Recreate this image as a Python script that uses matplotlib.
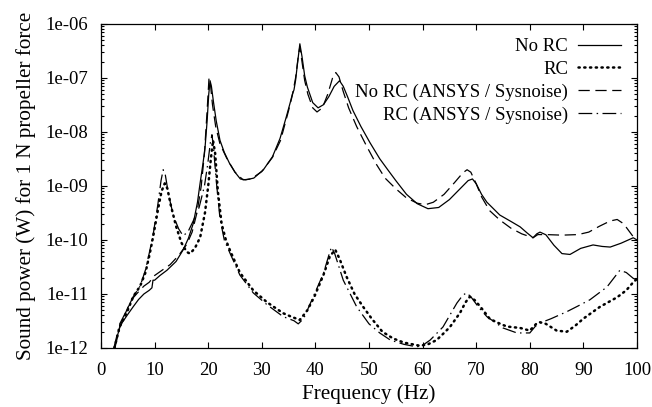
import matplotlib
matplotlib.use("Agg")
import matplotlib.pyplot as plt
from matplotlib.ticker import LogLocator, FixedLocator, FuncFormatter, NullFormatter

plt.rcParams['font.family'] = ['Liberation Serif', 'DejaVu Serif']
plt.rcParams['font.size'] = 13.5

# No RC (solid)
f_norc = [2.5, 3.0, 3.5, 4.0, 5.0, 6.0, 7.0, 8.0, 9.0, 9.5, 9.7, 10.0, 11.0, 12.3, 14.0,
          15.3, 16.3, 17.2, 18.0, 18.5, 19.0, 19.4, 19.8, 20.1, 20.35, 20.6, 21.0, 21.5,
          22.2, 23.0, 24.0, 25.0, 26.0, 27.0, 28.5, 30.3, 32.0, 33.4, 34.5, 35.3, 35.7,
          36.0, 36.3, 36.7, 37.1, 37.5, 38.0, 38.5, 39.5, 40.5, 41.5, 42.5, 43.5, 44.5,
          45.2, 46.0, 47.0, 48.5, 50.2, 52.0, 53.5, 55.0, 57.0, 59.0, 61.0, 63.0, 65.0,
          67.0, 68.5, 69.3, 70.0, 71.0, 72.0, 73.1, 74.4, 76.5, 78.2, 79.5, 80.6, 81.3,
          81.9, 83.0, 84.5, 86.0, 87.5, 89.5, 91.8, 93.5, 95.0, 97.0, 99.3, 100.0]
p_norc = [1.0e-12, 1.6e-12, 2.4e-12, 3.0e-12, 4.2e-12, 5.8e-12, 7.9e-12, 1.0e-11, 1.17e-11,
          1.3e-11, 1.8e-11, 1.8e-11, 2.2e-11, 2.75e-11, 4.0e-11, 6.5e-11, 1.07e-10, 2.0e-10,
          5.0e-10, 1.15e-9, 2.5e-9, 5.0e-9, 1.6e-8, 5.0e-8, 8.9e-8, 7.0e-8, 3.5e-8, 1.6e-8,
          7.0e-9, 4.2e-9, 2.6e-9, 1.8e-9, 1.35e-9, 1.3e-9, 1.4e-9, 2.0e-9, 3.5e-9, 7.6e-9,
          1.8e-8, 3.5e-8, 5.0e-8, 6.0e-8, 9.0e-8, 2.0e-7, 4.3e-7, 2.5e-7, 1.1e-7, 6.8e-8,
          3.5e-8, 2.8e-8, 3.2e-8, 4.5e-8, 7.0e-8, 8.9e-8, 7.0e-8, 4.5e-8, 2.5e-8, 1.26e-8,
          6.3e-9, 3.2e-9, 2.0e-9, 1.26e-9, 7.0e-10, 4.7e-10, 3.8e-10, 4.0e-10, 5.6e-10,
          8.9e-10, 1.26e-9, 1.35e-9, 1.1e-9, 7.0e-10, 5.0e-10, 3.9e-10, 2.9e-10, 2.2e-10,
          1.75e-10, 1.35e-10, 1.1e-10, 1.3e-10, 1.4e-10, 1.25e-10, 8.0e-11, 5.6e-11, 5.4e-11,
          7.0e-11, 8.1e-11, 7.6e-11, 7.4e-11, 8.7e-11, 1.1e-10, 1.0e-10]

# RC (dotted)
f_rc = [2.5, 3.5, 4.8, 6.0, 7.3, 8.3, 9.1, 9.8, 10.7, 11.3, 11.9, 12.4, 13.0, 14.0, 15.0,
        16.0, 16.6, 17.5, 18.5, 19.4, 20.0, 20.5, 20.9, 21.3, 21.8, 22.5, 23.3, 24.1, 25.9,
        28.4, 31.0, 34.0, 35.5, 37.1, 38.5, 39.8, 41.5, 42.7, 43.7, 44.5, 45.8, 47.3, 48.9,
        50.5, 52.5, 54.5, 56.5, 59.5, 61.0, 62.6, 64.0, 65.1, 67.0, 68.0, 68.8, 69.8, 71.3,
        72.5, 73.8, 75.7, 78.2, 80.0, 81.2, 81.9, 83.0, 85.0, 86.9, 88.5, 90.0, 93.1, 96.3,
        98.0, 99.3, 100.0]
p_rc = [1.0e-12, 2.5e-12, 4.5e-12, 8.9e-12, 1.4e-11, 2.5e-11, 5.6e-11, 1.26e-10, 4.0e-10,
        8.0e-10, 1.12e-9, 8.9e-10, 4.5e-10, 1.8e-10, 8.9e-11, 6.0e-11, 5.6e-11, 7.0e-11,
        1.12e-10, 3.2e-10, 1.0e-9, 3.2e-9, 7.0e-9, 4.0e-9, 8.0e-10, 2.0e-10, 1.0e-10,
        6.3e-11, 2.5e-11, 1.17e-11, 7.0e-12, 4.4e-12, 3.8e-12, 3.3e-12, 5.0e-12, 8.9e-12,
        2.25e-11, 5.0e-11, 6.6e-11, 4.5e-11, 2.1e-11, 1.0e-11, 5.8e-12, 3.5e-12, 2.0e-12,
        1.5e-12, 1.26e-12, 1.1e-12, 1.17e-12, 1.4e-12, 1.9e-12, 2.45e-12, 4.5e-12, 7.0e-12,
        8.9e-12, 7.6e-12, 5.0e-12, 3.5e-12, 3.0e-12, 2.5e-12, 2.35e-12, 2.1e-12, 2.8e-12,
        3.0e-12, 2.8e-12, 2.1e-12, 2.0e-12, 2.6e-12, 3.5e-12, 5.8e-12, 8.7e-12, 1.17e-11,
        1.65e-11, 1.9e-11]

# No RC (ANSYS / Sysnoise) (dashed)
f_norc_fe = [2.6, 3.5, 5.0, 6.0, 7.0, 8.0, 9.0, 10.0, 11.5, 12.9, 14.5, 16.0, 17.0, 17.9,
             18.7, 19.3, 19.8, 20.15, 20.4, 20.8, 21.4, 22.2, 23.5, 25.0, 26.5, 28.0, 30.0,
             32.0, 33.5, 35.0, 35.7, 36.3, 36.8, 37.1, 37.5, 38.0, 38.6, 39.5, 40.3, 41.3,
             42.3, 43.2, 43.8, 44.4, 45.2, 46.2, 47.7, 49.5, 51.4, 53.0, 55.0, 57.0, 59.0,
             60.5, 62.0, 64.0, 66.0, 67.5, 68.3, 69.0, 70.0, 71.0, 72.5, 74.4, 76.5, 78.5,
             80.6, 81.5, 83.0, 86.0, 89.0, 91.0, 93.0, 95.0, 96.3, 97.5, 99.3, 100.0]
p_norc_fe = [1.0e-12, 2.5e-12, 5.6e-12, 8.5e-12, 1.1e-11, 1.4e-11, 1.65e-11, 2.2e-11, 2.8e-11,
             3.5e-11, 5.2e-11, 8.3e-11, 1.4e-10, 3.2e-10, 1.0e-9, 4.0e-9, 2.5e-8, 1.0e-7,
             8.0e-8, 3.2e-8, 1.26e-8, 6.0e-9, 3.2e-9, 1.8e-9, 1.3e-9, 1.35e-9, 1.85e-9,
             3.4e-9, 7.0e-9, 2.5e-8, 4.8e-8, 1.0e-7, 2.5e-7, 3.8e-7, 2.0e-7, 9.0e-8, 5.0e-8,
             2.8e-8, 2.35e-8, 2.8e-8, 5.0e-8, 1.0e-7, 1.26e-7, 1.05e-7, 5.6e-8, 2.8e-8,
             1.26e-8, 5.6e-9, 2.5e-9, 1.4e-9, 8.9e-10, 6.0e-10, 4.8e-10, 4.5e-10, 5.0e-10,
             7.0e-10, 1.17e-9, 1.75e-9, 2.0e-9, 1.8e-9, 1.1e-9, 6.3e-10, 3.5e-10, 2.35e-10,
             1.65e-10, 1.3e-10, 1.1e-10, 1.26e-10, 1.26e-10, 1.23e-10, 1.26e-10, 1.4e-10,
             1.8e-10, 2.25e-10, 2.4e-10, 2.0e-10, 1.15e-10, 1.0e-10]

# RC (ANSYS / Sysnoise) (dash-dot)
f_rc_fe = [2.4, 3.5, 4.8, 6.0, 7.3, 8.3, 9.1, 9.8, 10.6, 11.2, 11.6, 12.0, 12.6, 13.5, 14.5,
           15.3, 16.2, 17.2, 18.3, 19.3, 19.9, 20.4, 20.7, 21.0, 21.5, 22.2, 23.0, 24.1, 25.9,
           28.4, 31.0, 34.0, 36.0, 36.8, 37.8, 39.6, 41.5, 42.5, 43.0, 43.6, 45.2, 47.7, 50.0,
           52.0, 54.0, 56.5, 58.9, 60.0, 61.4, 63.8, 66.4, 67.5, 68.2, 69.0, 70.5, 72.0, 75.0,
           77.6, 80.0, 81.0, 81.9, 84.0, 86.9, 89.0, 91.2, 94.4, 96.8, 98.0, 99.3, 100.0]
p_rc_fe = [1.0e-12, 2.8e-12, 5.0e-12, 8.9e-12, 1.4e-11, 2.8e-11, 6.3e-11, 1.4e-10, 4.5e-10,
           1.26e-9, 2.0e-9, 1.6e-9, 7.0e-10, 2.8e-10, 1.6e-10, 1.2e-10, 1.4e-10, 2.25e-10,
           4.0e-10, 1.0e-9, 2.5e-9, 6.3e-9, 8.9e-9, 5.0e-9, 1.26e-9, 2.5e-10, 1.0e-10, 5.6e-11,
           2.25e-11, 1.05e-11, 6.3e-12, 3.8e-12, 3.2e-12, 2.8e-12, 3.5e-12, 8.9e-12, 2.4e-11,
           5.2e-11, 7.4e-11, 5.6e-11, 1.8e-11, 5.8e-12, 2.8e-12, 1.9e-12, 1.4e-12, 1.17e-12,
           1.05e-12, 1.12e-12, 1.4e-12, 2.45e-12, 6.8e-12, 9.5e-12, 1.05e-11, 8.9e-12, 5.6e-12,
           3.8e-12, 2.35e-12, 1.9e-12, 1.9e-12, 2.5e-12, 2.9e-12, 3.5e-12, 4.7e-12, 6.0e-12,
           7.8e-12, 1.35e-11, 2.75e-11, 2.5e-11, 1.95e-11, 1.8e-11]

x_ticks = [0, 10, 20, 30, 40, 50, 60, 70, 80, 90, 100]

fig = plt.figure(figsize=(6.52, 4.07), dpi=100)
ax = fig.add_axes([101 / 652, 1 - 348 / 407, 536 / 652, 324 / 407])

ax.plot(f_norc, p_norc, color='black', lw=0.9, label='No RC')
ax.plot(f_rc, p_rc, color='black', lw=1.8, linestyle=(0, (0.5, 1.8)),
        dash_capstyle='round', label='RC')
ax.plot(f_norc_fe, p_norc_fe, color='black', lw=0.9, linestyle=(0, (9, 4.5)),
        label='No RC (ANSYS / Sysnoise)')
ax.plot(f_rc_fe, p_rc_fe, color='black', lw=0.9, linestyle=(0, (11, 3.5, 1.2, 3.5)),
        label='RC (ANSYS / Sysnoise)')

ax.set_yscale('log')
ax.set_xlim(0, 100)
ax.set_ylim(1e-12, 1e-6)
ax.xaxis.set_major_locator(FixedLocator(x_ticks))
ax.yaxis.set_major_locator(LogLocator(base=10, numticks=10))
ax.yaxis.set_minor_locator(LogLocator(base=10, subs=range(2, 10), numticks=20))
ax.yaxis.set_minor_formatter(NullFormatter())
ax.yaxis.set_major_formatter(FuncFormatter(lambda v, pos: f"{v:.0e}"))

ax.tick_params(which='both', direction='in', top=True, right=True, width=0.8)
ax.tick_params(which='major', length=4.5)
ax.tick_params(which='minor', length=2.5)
ax.tick_params(axis='x', pad=10)
ax.tick_params(axis='y', pad=9)
for s in ax.spines.values():
    s.set_linewidth(0.9)

ax.set_xlabel('Frequency (Hz)', fontsize=15.2, labelpad=4)
ax.set_ylabel('Sound power (W) for 1 N propeller force', fontsize=15.2, labelpad=7)

ax.legend(loc='upper right', bbox_to_anchor=(0.994, 0.997), frameon=False, markerfirst=False,
          handlelength=2.3, handletextpad=0.5, labelspacing=0.3, borderpad=0.2)

fig.savefig('out.png', dpi=100)
